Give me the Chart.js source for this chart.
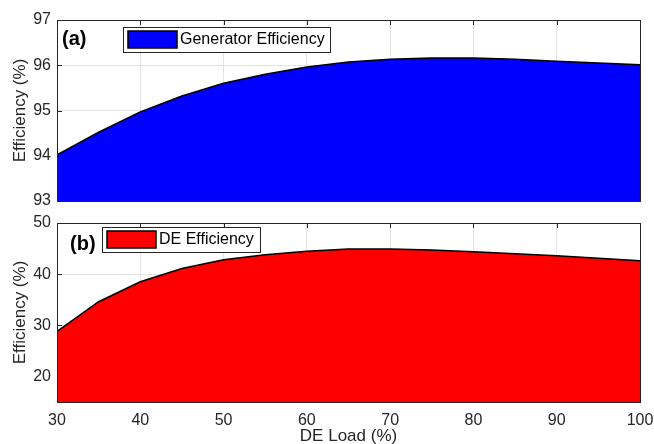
<!DOCTYPE html>
<html>
<head>
<meta charset="utf-8">
<script src="https://cdn.jsdelivr.net/npm/chart.js@4/dist/chart.umd.min.js"></script>
<style>
  body { margin: 0; background: #fff; }
  #wrap { position: relative; width: 654px; height: 444px; }
  canvas { position: absolute; left: 0; }
</style>
</head>
<body>
<div id="wrap">
  <canvas id="topChart" width="654" height="210" style="top:0"></canvas>
  <canvas id="bottomChart" width="654" height="234" style="top:210px"></canvas>
</div>
<script>
// DE load (%) on the x axis
const loadPct = [30, 35, 40, 45, 50, 55, 60, 65, 70, 75, 80, 85, 90, 95, 100];
// (a) generator efficiency (%)
const genEff = [94.02, 94.52, 94.97, 95.32, 95.6, 95.8, 95.96, 96.07, 96.13, 96.16, 96.16, 96.13, 96.09, 96.05, 96.01];
// (b) diesel engine efficiency (%)
const deEff = [28.8, 34.6, 38.5, 41.1, 42.8, 43.8, 44.5, 44.9, 44.9, 44.7, 44.4, 44.0, 43.6, 43.1, 42.6];

const xTicks = [30, 40, 50, 60, 70, 80, 90, 100];
const genTicks = [93, 94, 95, 96, 97];
const deTicks = [20, 30, 40, 50];

const FONT = "'Liberation Sans', Arial, sans-serif";

// MATLAB style box, inward ticks and the in-axes legend
const axesBox = {
  id: 'axesBox',
  beforeDatasetsDraw(chart, args, opts) {
    const { ctx, chartArea: a, scales } = chart;
    ctx.save();
    ctx.strokeStyle = '#262626';
    ctx.lineWidth = 1;
    ctx.beginPath();
    scales.x.ticks.forEach(t => {
      const px = Math.round(scales.x.getPixelForValue(t.value)) + 0.5;
      ctx.moveTo(px, a.top); ctx.lineTo(px, a.top + 5);
      ctx.moveTo(px, a.bottom); ctx.lineTo(px, a.bottom - 5);
    });
    scales.y.ticks.forEach(t => {
      const py = Math.round(scales.y.getPixelForValue(t.value)) + 0.5;
      ctx.moveTo(a.left, py); ctx.lineTo(a.left + 5, py);
      ctx.moveTo(a.right, py); ctx.lineTo(a.right - 5, py);
    });
    ctx.stroke();
    ctx.restore();
  },
  afterDraw(chart, args, opts) {
    const { ctx, chartArea: a } = chart;
    ctx.save();
    ctx.strokeStyle = '#262626';
    ctx.lineWidth = 1;
    ctx.strokeRect(Math.round(a.left) + 0.5, Math.round(a.top) + 0.5,
      Math.round(a.right - a.left), Math.round(a.bottom - a.top));

    // panel letter
    ctx.fillStyle = '#000';
    ctx.font = 'bold 20px ' + FONT;
    ctx.textBaseline = 'middle';
    ctx.textAlign = 'left';
    ctx.fillText(opts.letter, a.left + opts.letterDx, a.top + opts.letterDy);

    // legend box
    const bx = a.left + opts.boxDx, by = a.top + opts.boxDy;
    ctx.fillStyle = '#fff';
    ctx.fillRect(bx, by, opts.boxW, 25);
    ctx.strokeStyle = '#262626';
    ctx.strokeRect(bx + 0.5, by + 0.5, opts.boxW, 25);
    ctx.fillStyle = opts.color;
    ctx.fillRect(bx + 5, by + 4, 49, 17);
    ctx.lineWidth = 1.5;
    ctx.strokeStyle = '#000';
    ctx.strokeRect(bx + 5, by + 4, 49, 17);
    ctx.fillStyle = '#000';
    ctx.font = '16px ' + FONT;
    ctx.fillText(opts.label, bx + 57, by + 13);
    ctx.restore();
  }
};

function noPad(s) {
  s.paddingLeft = 0; s.paddingRight = 0; s.paddingTop = 0; s.paddingBottom = 0;
}

function makeChart(id, values, color, yMin, yMax, yTicks, legend, showX) {
  return new Chart(document.getElementById(id), {
    type: 'line',
    data: {
      datasets: [{
        data: loadPct.map((x, i) => ({ x: x, y: values[i] })),
        borderColor: '#000',
        borderWidth: 1.5,
        backgroundColor: color,
        fill: 'start',
        pointRadius: 0,
        tension: 0
      }]
    },
    options: {
      responsive: false,
      animation: false,
      layout: { padding: showX ? { top: 13, right: 14, bottom: 0, left: 0 } : { top: 20, right: 14, bottom: 9, left: 0 } },
      plugins: { legend: { display: false }, tooltip: { enabled: false }, axesBox: legend },
      scales: {
        x: {
          type: 'linear', min: 30, max: 100,
          afterBuildTicks: s => { s.ticks = xTicks.map(v => ({ value: v })); },
          afterFit: s => { s.height = showX ? 42 : 0; noPad(s); },
          grid: { color: '#e3e3e3', drawTicks: false },
          border: { display: false },
          ticks: { display: showX, padding: 9, color: '#262626', font: { family: FONT, size: 16 } },
          title: { display: showX, text: 'DE Load (%)', color: '#262626', padding: { top: 0, bottom: -3 }, font: { family: FONT, size: 17 } }
        },
        y: {
          min: yMin, max: yMax,
          afterBuildTicks: s => { s.ticks = yTicks.map(v => ({ value: v })); },
          afterFit: s => { s.width = 57; noPad(s); },
          grid: { color: '#e3e3e3', drawTicks: false },
          border: { display: false },
          ticks: { padding: 6, color: '#262626', font: { family: FONT, size: 16 } },
          title: { display: true, text: 'Efficiency (%)', color: '#262626', padding: { top: 10, bottom: 0 }, font: { family: FONT, size: 17 } }
        }
      }
    },
    plugins: [axesBox]
  });
}

makeChart('topChart', genEff, '#0000ff', 93, 97, genTicks,
  { letter: '(a)', letterDx: 5, letterDy: 19, boxDx: 66, boxDy: 7, boxW: 207, label: 'Generator Efficiency', color: '#0000ff' }, false);
makeChart('bottomChart', deEff, '#ff0000', 15, 50, deTicks,
  { letter: '(b)', letterDx: 13, letterDy: 21, boxDx: 45, boxDy: 4, boxW: 158, label: 'DE Efficiency', color: '#ff0000' }, true);
</script>
</body>
</html>
